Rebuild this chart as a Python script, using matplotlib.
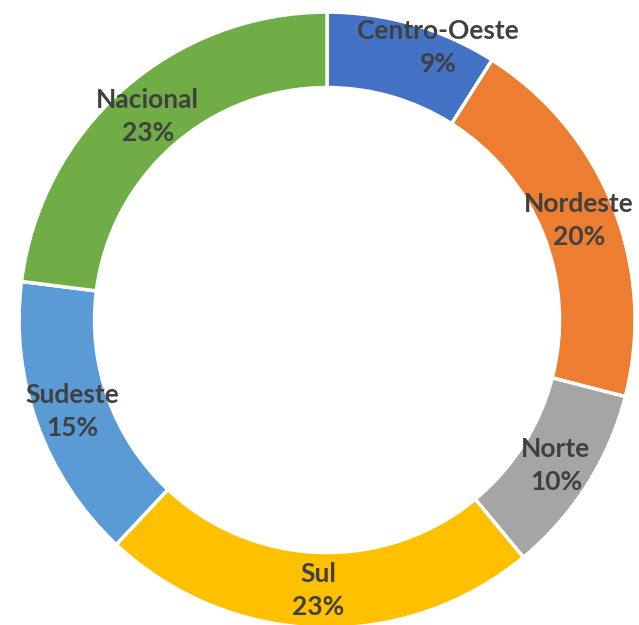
import numpy as np
import matplotlib.pyplot as plt

regions = ['Centro-Oeste', 'Nordeste', 'Norte', 'Sul', 'Sudeste', 'Nacional']
shares = [9, 20, 10, 23, 15, 23]
colors = ['#4472C4', '#ED7D31', '#A5A5A5', '#FFC000', '#5B9BD5', '#70AD47']

fig = plt.figure(figsize=(6.39, 6.25), dpi=100)
ax = fig.add_axes([0, 0, 1, 1])

wedges, _ = ax.pie(shares, colors=colors, startangle=90, counterclock=False,
                   radius=1.0,
                   wedgeprops=dict(width=0.245, edgecolor='white', linewidth=2.5))

# label positions along the ring, Centro-Oeste nudged outward like Excel does
lab_r = {'Centro-Oeste': 0.955}
lab_shift = {'Centro-Oeste': -6.0}
for w, name, v in zip(wedges, regions, shares):
    ang = np.deg2rad((w.theta1 + w.theta2) / 2 + lab_shift.get(name, 0))
    r = lab_r.get(name, 0.88)
    ax.text(r * np.cos(ang), r * np.sin(ang), f'{name}\n{v}%',
            ha='center', va='center', fontsize=19, fontweight='bold',
            family='Lato', color='#404040', linespacing=1.45)

ax.set_xlim(-1.062, 1.013)
ax.set_ylim(-0.990, 1.039)
ax.set_aspect('equal')
ax.axis('off')

fig.savefig('out.png', dpi=100)
